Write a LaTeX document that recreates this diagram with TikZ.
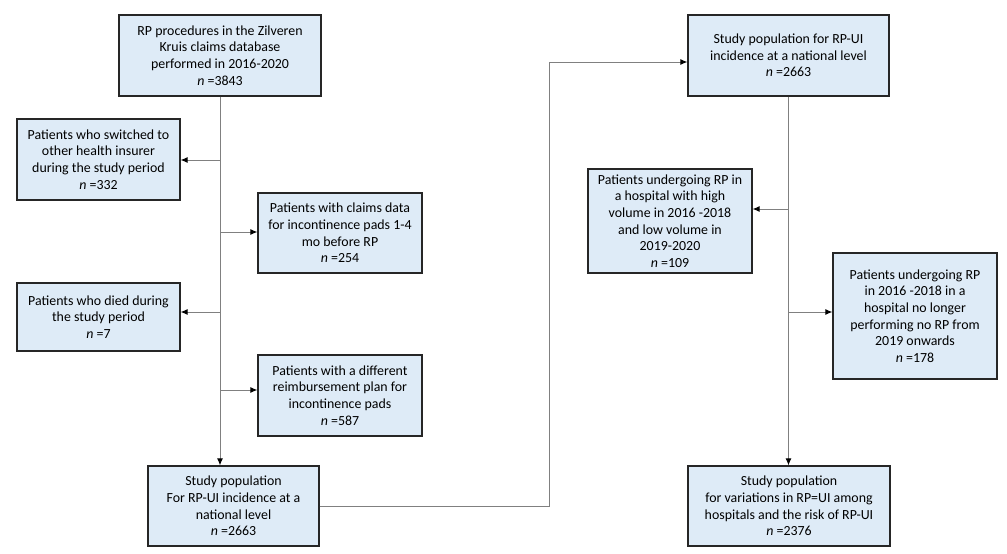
\documentclass[tikz,border=0pt]{standalone}
\usepackage{fontspec}
\setmainfont{Carlito}
\usetikzlibrary{arrows.meta,calc}
\definecolor{boxfill}{HTML}{DEEBF7}
\definecolor{boxline}{HTML}{262626}
\definecolor{conn}{HTML}{808080}
\begin{document}
\begin{tikzpicture}[x=1pt,y=-1pt,
  box/.style={draw=boxline,line width=1.3pt,fill=boxfill,align=center,inner sep=2pt,
    font=\fontsize{13.9}{16.7}\selectfont},
  conn/.style={draw=conn,line width=0.9pt},
  arr/.style={conn,-{Latex[length=7pt,width=6pt,color=black]}}]
\useasboundingbox (0,0) rectangle (1007,554);
\node[box,minimum width=202pt,minimum height=81pt] (b1) at (220,55.5)
  {RP procedures in the Zilveren\\Kruis claims database\\performed in 2016-2020\\\textit{n} =3843};
\node[box,minimum width=163pt,minimum height=81pt] (b2) at (98.5,159.5)
  {Patients who switched to\\other health insurer\\during the study period\\\textit{n} =332};
\node[box,minimum width=164pt,minimum height=80pt] (b3) at (340,233)
  {Patients with claims data\\for incontinence pads 1-4\\mo before RP\\\textit{n} =254};
\node[box,minimum width=163pt,minimum height=68pt] (b4) at (98.5,317)
  {Patients who died during\\the study period\\\textit{n} =7};
\node[box,minimum width=164pt,minimum height=81pt] (b5) at (340,395.5)
  {Patients with a different\\reimbursement plan for\\incontinence pads\\\textit{n} =587};
\node[box,minimum width=171pt,minimum height=80pt] (b6) at (233.5,506)
  {Study population\\For RP-UI incidence at a\\national level\\\textit{n} =2663};
\node[box,minimum width=201pt,minimum height=81pt] (b7) at (788.5,55.5)
  {Study population for RP-UI\\incidence at a national level\\\textit{n} =2663};
\node[box,minimum width=164pt,minimum height=104pt] (b8) at (670,221)
  {Patients undergoing RP in\\a hospital with high\\volume in 2016 -2018\\and low volume in\\2019-2020\\\textit{n} =109};
\node[box,minimum width=164pt,minimum height=126pt] (b9) at (915,316)
  {Patients undergoing RP\\in 2016 -2018 in a\\hospital no longer\\performing no RP from\\2019 onwards\\\textit{n} =178};
\node[box,minimum width=202pt,minimum height=80pt] (b10) at (789,506)
  {Study population\\for variations in RP=UI among\\hospitals and the risk of RP-UI\\\textit{n} =2376};
% left trunk
\coordinate (t1) at (b1.south |- 0,160);
\coordinate (t2) at (b1.south |- 0,232);
\coordinate (t3) at (b1.south |- 0,312);
\coordinate (t4) at (b1.south |- 0,390);
\draw[arr] (b1.south) -- (b1.south |- b6.north);
\draw[arr] (t1) -- (t1 -| b2.east);
\draw[arr] (t2) -- (t2 -| b3.west);
\draw[arr] (t3) -- (t3 -| b4.east);
\draw[arr] (t4) -- (t4 -| b5.west);
% link
\coordinate (k1) at (549,506);
\coordinate (k2) at (549,62);
\draw[arr] (b6.east |- k1) -- (k1) -- (k2) -- (k2 -| b7.west);
% right trunk
\coordinate (r1) at (b7.south |- 0,209);
\coordinate (r2) at (b7.south |- 0,312);
\draw[arr] (b7.south) -- (b7.south |- b10.north);
\draw[arr] (r1) -- (r1 -| b8.east);
\draw[arr] (r2) -- (r2 -| b9.west);
\end{tikzpicture}
\end{document}
